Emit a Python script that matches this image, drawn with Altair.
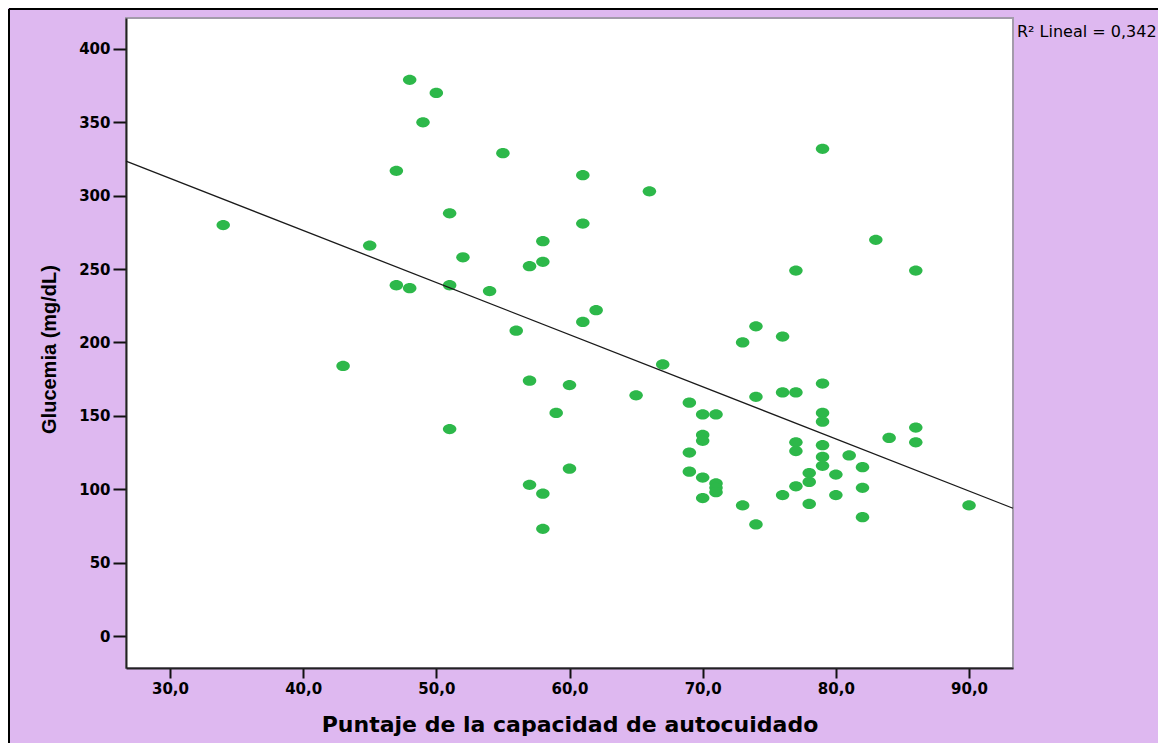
import altair as alt
import pandas as pd

# Puntaje de la capacidad de autocuidado
score = [34, 43, 45, 47, 47, 48, 48, 49, 50, 51, 51, 51, 52, 54, 55, 56, 57, 57, 57,
         58, 58, 58, 58, 59, 60, 60, 61, 61, 61, 62, 65, 66, 67, 69, 69, 69,
         70, 70, 70, 70, 70, 71, 71, 71, 71, 73, 73, 74, 74, 74, 76, 76, 76,
         77, 77, 77, 77, 77, 78, 78, 78, 79, 79, 79, 79, 79, 79, 79, 80, 80,
         81, 82, 82, 82, 83, 84, 86, 86, 86, 90]
# Glucemia (mg/dL)
glucose = [280, 184, 266, 317, 239, 379, 237, 350, 370, 288, 239, 141, 258, 235, 329, 208, 252, 174, 103,
           269, 255, 97, 73, 152, 171, 114, 314, 281, 214, 222, 164, 303, 185, 159, 125, 112,
           151, 137, 133, 108, 94, 151, 104, 101, 98, 200, 89, 211, 163, 76, 204, 166, 96,
           249, 166, 132, 126, 102, 111, 105, 90, 332, 172, 152, 146, 130, 122, 116, 110, 96,
           123, 115, 101, 81, 270, 135, 249, 142, 132, 89]

x_ticks = [30, 40, 50, 60, 70, 80, 90]
y_ticks = [0, 50, 100, 150, 200, 250, 300, 350, 400]
x_domain = [26.7, 93.3]
y_domain = [-21.8, 421.1]
r2_label = ["R² Lineal = 0,342"]

df = pd.DataFrame({"score": score, "glucose": glucose})

BG = "#DEB8F0"
GREEN = "#2DB84A"
ellipse = "M-1,0A1,0.76,0,1,1,1,0A1,0.76,0,1,1,-1,0Z"

xscale = alt.Scale(domain=x_domain, nice=False, zero=False)
yscale = alt.Scale(domain=y_domain, nice=False, zero=False)

xaxis = alt.Axis(
    values=x_ticks,
    labelExpr="replace(format(datum.value, '.1f'), '.', ',')",
    title="Puntaje de la capacidad de autocuidado",
    titleFont="DejaVu Sans", titleFontSize=22, titleFontWeight="bold",
    titleBaseline="alphabetic", titleY=63,
    labelFont="DejaVu Sans", labelFontSize=15, labelFontWeight="bold",
    labelPadding=3, tickSize=10, tickWidth=2, tickColor="#111",
    domainColor="#222", domainWidth=2, grid=False, labelColor="black", titleColor="black",
)
yaxis = alt.Axis(
    values=y_ticks,
    format="d",
    title="Glucemia (mg/dL)",
    titleFont="Liberation Sans", titleFontSize=20, titleFontWeight="bold",
    titleBaseline="alphabetic", titleX=-71, titleY=331, titleAngle=-90,
    labelFont="DejaVu Sans", labelFontSize=15, labelFontWeight="bold",
    labelPadding=3, tickSize=13, tickWidth=2, tickColor="#111",
    domainColor="#222", domainWidth=2, grid=False, labelColor="black", titleColor="black",
)

base = alt.Chart(df)

points = base.mark_point(
    shape=ellipse, filled=True, size=182, color=GREEN, opacity=1, strokeWidth=0
).encode(
    x=alt.X("score:Q", scale=xscale, axis=xaxis),
    y=alt.Y("glucose:Q", scale=yscale, axis=yaxis),
)

fit = base.transform_regression(
    "score", "glucose", extent=x_domain
).mark_line(color="#1a1a1a", strokeWidth=1.3).encode(
    x=alt.X("score:Q", scale=xscale),
    y=alt.Y("glucose:Q", scale=yscale),
)

r2 = alt.Chart(pd.DataFrame({"t": r2_label})).mark_text(
    align="left", baseline="alphabetic", font="DejaVu Sans", fontSize=16, color="black"
).encode(x=alt.value(891), y=alt.value(19), text="t:N")

frame_left = alt.Chart(pd.DataFrame({"t": r2_label})).mark_rule(
    color="black", strokeWidth=2
).encode(x=alt.value(-117), y=alt.value(-9), y2=alt.value(730))
frame_top = alt.Chart(pd.DataFrame({"t": r2_label})).mark_rule(
    color="black", strokeWidth=2
).encode(x=alt.value(-117), x2=alt.value(1040), y=alt.value(-9))

chart = alt.layer(points, fit, r2, frame_left, frame_top).properties(
    width=887, height=650,
    background=BG,
    padding={"left": 118, "top": 10, "right": 145, "bottom": 75},
    autosize=alt.AutoSizeParams(type="none"),
).configure_view(
    fill="white", stroke="#A39BAB", strokeWidth=2
)

chart.save("out.html", embed_options={"renderer": "svg", "actions": False})
